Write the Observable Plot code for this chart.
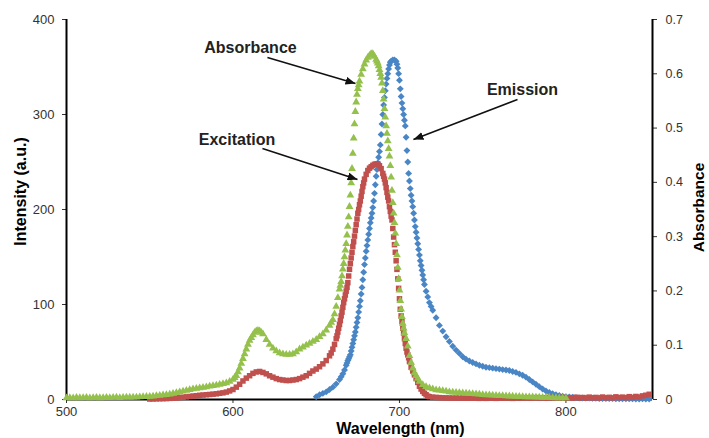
<!DOCTYPE html>
<html><head><meta charset="utf-8">
<script src="https://cdn.jsdelivr.net/npm/d3@7"></script>
<script src="https://cdn.jsdelivr.net/npm/@observablehq/plot@0.6"></script>
<style>body{margin:0;background:#fff}</style>
</head><body><div id="chart"></div>
<script>
// ---- data (wavelength nm, value) ----
// Emission: intensity (a.u.), left axis
const emission = [[650,3],[652,5],[654,6.5],[656,8],[658,10.5],[660,13],[662,16.5],[664,21],[665,24],[666,27],[667,31],[668,36],[668.5,38.5],[669,41],[669.5,43],[670,45],[670.5,47],[671,51],[671.5,55],[672,59],[672.5,63],[673,67],[673.5,71],[674,76],[674.5,81],[675,86],[675.5,92],[676,98],[676.5,104],[677,111],[677.5,118],[678,126],[678.5,134],[679,142],[679.5,149],[680,156],[680.5,162],[681,168],[681.5,174],[682,180],[682.5,186],[683,191],[683.5,196],[684,202],[684.5,209],[685,217],[685.5,226],[686,235],[686.5,242],[687,249],[687.5,255],[688,261],[688.5,268],[689,279],[689.5,290],[690,300],[690.5,310],[691,318],[691.5,325],[692,332],[692.5,338],[693,343],[693.5,348],[694,352],[694.5,355],[695,356],[696,357.5],[697,357.5],[698,356],[698.5,353],[699,349],[699.5,343],[700,336],[700.5,327],[701,319],[701.5,312],[702,306],[702.5,300],[703,294],[703.5,288],[704,276],[704.5,262],[705,250],[705.5,238],[706,230],[706.5,222],[707,215],[707.5,209],[708,203],[708.5,196],[709,189],[709.5,182],[710,176],[710.5,170],[711,164],[711.5,158],[712,152],[712.5,146],[713,141],[713.5,136],[714,131],[714.5,126],[715,121],[716,114],[717,108],[718,102],[719,98],[720,94],[722,86],[724,78],[726,72],[728,66],[730,61],[732,56],[734,52],[736,48.5],[738,45],[740,42.5],[742,40.5],[744,39],[746,37.5],[748,36],[750,35],[752,34],[754,33.5],[756,33],[758,32.5],[760,32],[762,31.5],[764,31],[766,30.5],[768,29.5],[770,28.5],[772,27],[774,25.5],[776,23.5],[778,21],[780,18.5],[782,16],[784,13.5],[786,11],[788,9],[790,7.5],[792,6],[794,5],[796,4.2],[798,3.5],[800,3],[802,2.6],[804,2.3],[806,2],[808,1.8],[810,1.6],[812,1.5],[814,1.4],[816,1.3],[818,1.2],[820,1.1],[822,1],[824,1],[826,0.9],[828,0.9],[830,0.8],[832,0.8],[834,0.7],[836,0.7],[838,0.6],[840,0.6],[842,0.5],[844,0.5],[846,0.6],[848,0.5],[850,0.5]];

// Excitation: intensity (a.u.), left axis
const excitation = [[550,0.5],[552,0.6],[554,0.7],[556,0.8],[558,0.9],[560,1],[562,1.2],[564,1.4],[566,1.6],[568,2],[570,2.4],[572,2.8],[574,3.2],[576,3.6],[578,4],[580,4.4],[582,4.7],[584,5],[586,5.3],[588,5.6],[590,6],[592,6.5],[594,7],[596,7.8],[598,9],[600,10.5],[602,13],[604,16],[606,19.5],[608,22.5],[610,25],[612,27.5],[614,29],[616,29.5],[618,28.5],[620,27],[622,25],[624,23.5],[626,22],[628,21],[630,20.5],[632,20],[634,20],[636,20.5],[638,21],[640,22],[642,23.5],[644,25],[646,27.5],[648,30],[650,32],[652,34.5],[654,37.5],[656,41],[658,46],[659,49],[660,53],[661,58],[662,64],[662.5,67],[663,71],[663.5,75],[664,79],[664.5,83],[665,88],[665.5,92],[666,97],[666.5,102],[667,106],[667.5,110],[668,114],[668.5,118],[669,123],[669.5,130],[670,137],[670.5,143],[671,149],[671.5,155],[672,161],[672.5,166],[673,172],[673.5,178],[674,184],[674.5,190],[675,196],[675.5,200],[676,205],[676.5,209],[677,214],[677.5,219],[678,224],[678.5,228],[679,232],[680,237],[681,241],[682,243.5],[683,245],[684,246.5],[685,247.5],[686,248],[687,248],[688,246],[689,243],[690,238],[690.5,235],[691,232],[691.5,228],[692,223],[692.5,218],[693,213],[693.5,209],[694,203],[694.5,198],[695,193],[695.5,189],[696,180],[696.5,171],[697,163],[697.5,155],[698,146],[698.5,137],[699,127],[699.5,117],[700,106],[700.5,95],[701,88],[701.5,82],[702,75],[702.5,70],[703,64],[703.5,59],[704,54],[704.5,50],[705,47],[705.5,44],[706,40],[707,34],[708,30],[709,26],[710,22],[711,18],[712,14],[713,11],[714,8.5],[715,6.5],[716,5],[717,3.5],[718,3],[720,2.5],[722,2.2],[724,2],[726,1.8],[728,1.7],[730,1.6],[732,1.5],[734,1.5],[736,1.4],[738,1.5],[740,1.4],[742,1.3],[744,1.4],[746,1.3],[748,1.2],[750,1.3],[752,1.2],[754,1.3],[756,1.4],[758,1.2],[760,1.5],[762,1.3],[764,1.6],[766,1.4],[768,1.2],[770,1.7],[772,1.3],[774,1.5],[776,1.8],[778,1.4],[780,1.6],[782,2],[784,1.5],[786,1.8],[788,1.3],[790,2.2],[792,1.6],[794,1.9],[796,1.4],[798,2.3],[800,1.7],[802,2],[804,1.5],[806,2.4],[808,1.6],[810,2.1],[812,1.5],[814,2.5],[816,1.7],[818,2.2],[820,1.6],[822,2.6],[824,1.8],[826,2.3],[828,1.7],[830,2.8],[832,2],[834,2.5],[836,1.9],[838,3],[840,2.2],[842,3.2],[844,2.6],[846,3.8],[848,4.5],[850,5.5]];

// Absorbance: absorbance units, right axis
const absorbance = [[500,0.0026],[502,0.0032],[504,0.0026],[506,0.0035],[508,0.003],[510,0.0032],[512,0.0035],[514,0.0028],[516,0.0032],[518,0.0035],[520,0.003],[522,0.0033],[524,0.0037],[526,0.0032],[528,0.0035],[530,0.0039],[532,0.0033],[534,0.0037],[536,0.004],[538,0.0039],[540,0.0042],[542,0.004],[544,0.0046],[546,0.0049],[548,0.0053],[550,0.0056],[552,0.0061],[554,0.0067],[556,0.0074],[558,0.0081],[560,0.0088],[562,0.0098],[564,0.011],[566,0.0123],[568,0.0137],[570,0.0154],[572,0.0166],[574,0.0179],[576,0.0193],[578,0.0201],[580,0.021],[582,0.0221],[584,0.0231],[586,0.0242],[588,0.0254],[590,0.0263],[592,0.0277],[594,0.0289],[596,0.0306],[598,0.0333],[600,0.0368],[601,0.0403],[602,0.0438],[603,0.0508],[604,0.0578],[605,0.0665],[606,0.0753],[607,0.084],[608,0.0928],[609,0.1015],[610,0.1085],[611,0.1138],[612,0.119],[613,0.1234],[614,0.126],[615,0.1269],[616,0.126],[617,0.1234],[618,0.1208],[620,0.1103],[622,0.1015],[624,0.0945],[626,0.0893],[628,0.0858],[630,0.084],[632,0.0831],[634,0.0831],[636,0.084],[638,0.0875],[640,0.0928],[642,0.0963],[644,0.0998],[646,0.1033],[648,0.1068],[650,0.1103],[652,0.1155],[654,0.1208],[656,0.1278],[658,0.1365],[659,0.1418],[660,0.147],[661,0.1575],[662,0.1715],[663,0.1873],[664,0.203],[664.5,0.21],[665,0.217],[665.5,0.2275],[666,0.2398],[666.5,0.2503],[667,0.2625],[667.5,0.2748],[668,0.287],[668.5,0.3028],[669,0.3185],[669.5,0.336],[670,0.3553],[670.5,0.3763],[671,0.399],[671.5,0.4253],[672,0.4533],[672.5,0.4813],[673,0.5075],[673.5,0.5303],[674,0.5478],[674.5,0.5618],[675,0.5723],[675.5,0.5793],[676,0.5863],[677,0.5985],[678,0.609],[679,0.6178],[680,0.6248],[681,0.63],[682,0.6335],[683,0.637],[684,0.637],[685,0.6318],[686,0.6265],[686.5,0.623],[687,0.6195],[687.5,0.6143],[688,0.6073],[688.5,0.6003],[689,0.5933],[689.5,0.5828],[690,0.5688],[690.5,0.553],[691,0.5355],[691.5,0.5198],[692,0.504],[692.5,0.49],[693,0.476],[693.5,0.462],[694,0.448],[694.5,0.4305],[695,0.4095],[695.5,0.385],[696,0.3623],[696.5,0.343],[697,0.3255],[697.5,0.3063],[698,0.287],[698.5,0.266],[699,0.2433],[699.5,0.2223],[700,0.2013],[700.5,0.182],[701,0.1663],[701.5,0.1523],[702,0.14],[702.5,0.1313],[703,0.1225],[704,0.112],[705,0.098],[706,0.0805],[707,0.0683],[708,0.0578],[709,0.049],[710,0.0438],[711,0.0385],[712,0.0333],[714,0.0271],[716,0.0236],[718,0.021],[720,0.0193],[722,0.0175],[724,0.017],[726,0.016],[728,0.015],[730,0.014],[732,0.0135],[734,0.013],[736,0.0125],[738,0.012],[740,0.0114],[742,0.011],[744,0.0105],[746,0.01],[748,0.0095],[750,0.0088],[752,0.0085],[754,0.0082],[756,0.0079],[758,0.0074],[760,0.007],[762,0.0068],[764,0.0065],[766,0.0062],[768,0.0058],[770,0.0056],[772,0.0053],[774,0.005],[776,0.0048],[778,0.0046],[780,0.0045],[782,0.0043],[784,0.004],[786,0.0038],[788,0.0036],[790,0.0035],[792,0.0033],[794,0.003],[796,0.0028],[798,0.0027],[800,0.0026]];

// ticks
const xTicks = [500, 600, 700, 800];
const yTicks = [0, 100, 200, 300, 400];
const absTicks = [0, 0.1, 0.2, 0.3, 0.4, 0.5, 0.6, 0.7];

// annotations (data coordinates: wavelength, intensity)
const annoLabels = ["Absorbance", "Excitation", "Emission"];
const annoTextX = [610.5, 602.4, 773.9];
const annoTextY = [370.5, 273.7, 326.3];
const arrowFromX = [620.7, 617.7, 770.9];
const arrowFromY = [360, 264.2, 315.8];
const arrowToX = [673.6, 674.8, 708.4];
const arrowToY = [332.6, 231.6, 273.7];

// ---- chart ----
const yMax = 400, absMax = 0.7, k = yMax / absMax;
const annotations = annoLabels.map((t, i) => ({
  t, x: annoTextX[i], y: annoTextY[i],
  x1: arrowFromX[i], y1: arrowFromY[i], x2: arrowToX[i], y2: arrowToY[i]
}));

function arrowHead(color, context) {
  const doc = (context && context.document) || document;
  const ns = "http://www.w3.org/2000/svg";
  const m = doc.createElementNS(ns, "marker");
  m.setAttribute("viewBox", "-10 -4 10 8");
  m.setAttribute("markerWidth", "10");
  m.setAttribute("markerHeight", "8");
  m.setAttribute("markerUnits", "userSpaceOnUse");
  m.setAttribute("refX", "0");
  m.setAttribute("refY", "0");
  m.setAttribute("orient", "auto");
  const p = doc.createElementNS(ns, "path");
  p.setAttribute("d", "M-10,-4L0,0L-10,4Z");
  p.setAttribute("fill", color);
  p.setAttribute("stroke", "none");
  m.appendChild(p);
  return m;
}

const BLUE = "#4A86C5", RED = "#C0504D", GREEN = "#94C04C";

function build(marker) {
  return Plot.plot({
    width: 709, height: 438,
    marginLeft: 66, marginRight: 57, marginTop: 19, marginBottom: 39,
    x: {domain: [500, 852]},
    y: {domain: [0, yMax]},
    style: {fontFamily: "'Liberation Sans', Arial, sans-serif", fontSize: "13px", color: "#333", background: "#fff", overflow: "visible"},
    marks: [
      Plot.axisX({ticks: xTicks, tickSize: 4, tickPadding: 3, fontSize: 13, label: null, tickFormat: d => String(d)}),
      Plot.axisY({ticks: yTicks, tickSize: 4, tickPadding: 8, fontSize: 13, label: null, tickFormat: d => String(d)}),
      Plot.axisY({anchor: "right", ticks: absTicks.map(a => a * k), tickSize: 4, tickPadding: 9, fontSize: 12.5, label: null,
        tickFormat: d => String(Math.round(d / k * 10) / 10)}),
      Plot.ruleY([0], {stroke: "#000", strokeWidth: 2}),
      Plot.ruleX([500], {stroke: "#000", strokeWidth: 2}),
      Plot.ruleX([852], {stroke: "#000", strokeWidth: 2}),
      Plot.dot(emission, {x: d => d[0], y: d => d[1], symbol: "diamond2", r: 3.1, fill: BLUE}),
      Plot.dot(excitation, {x: d => d[0], y: d => d[1], symbol: "square", r: 3.1, fill: RED}),
      Plot.dot(absorbance, {x: d => d[0], y: d => d[1] * k, symbol: "triangle", r: 2.9, fill: GREEN}),
      Plot.link(annotations, {x1: "x1", y1: "y1", x2: "x2", y2: "y2", stroke: "#111", strokeWidth: 1.6, markerEnd: marker}),
      Plot.text(annotations, {x: "x", y: "y", text: "t", fontWeight: "bold", fontSize: 16, fill: "#222", textAnchor: "middle", lineAnchor: "middle"}),
      Plot.text(["Intensity (a.u.)"], {text: d => d, frameAnchor: "left", dx: -46, dy: -18, rotate: -90, textAnchor: "middle", lineAnchor: "middle", fontWeight: "bold", fontSize: 16, fill: "#000"}),
      Plot.text(["Absorbance"], {text: d => d, frameAnchor: "right", dx: 47, dy: -2, rotate: -90, textAnchor: "middle", lineAnchor: "middle", fontWeight: "bold", fontSize: 15.5, fill: "#000"}),
      Plot.text(["Wavelength (nm)"], {text: d => d, frameAnchor: "bottom", dx: 41, dy: 29, textAnchor: "middle", lineAnchor: "middle", fontWeight: "bold", fontSize: 16, fill: "#000"})
    ]
  });
}

let chart;
try { chart = build(arrowHead); } catch (e) { console.error(e); chart = build("arrow"); }
document.getElementById("chart").append(chart);
</script></body></html>
